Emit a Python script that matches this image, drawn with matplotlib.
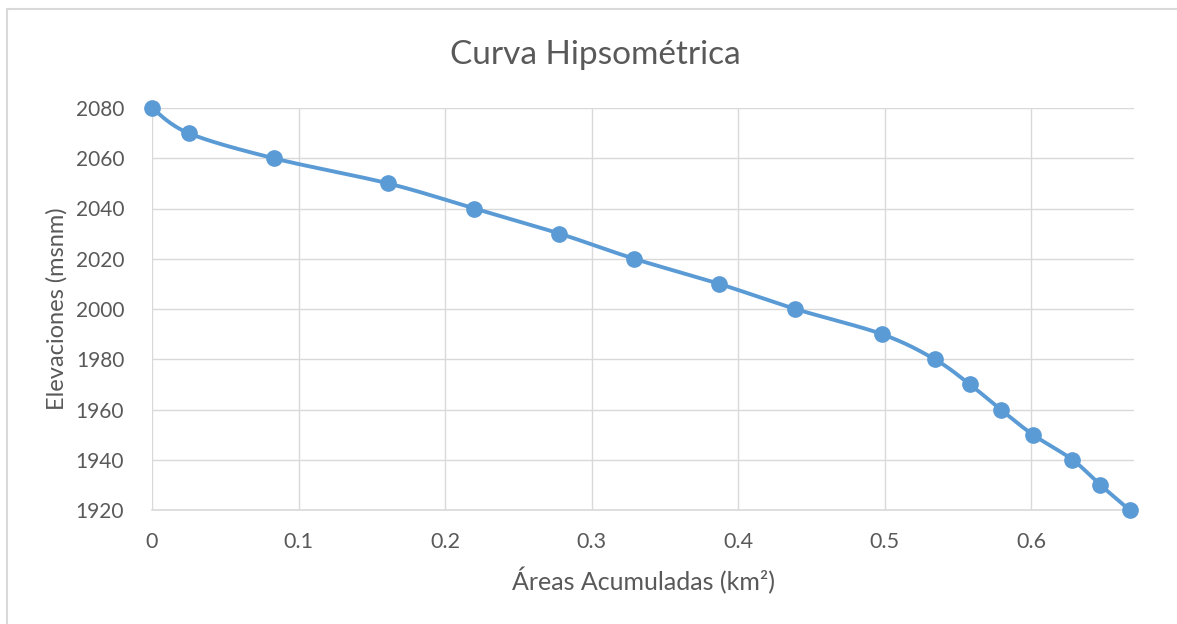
import numpy as np
import matplotlib.pyplot as plt
from matplotlib.patches import Rectangle

# Cumulative area (km2) vs elevation (msnm)
areas = [0.0, 0.025, 0.083, 0.161, 0.220, 0.278, 0.329, 0.387, 0.439,
         0.498, 0.534, 0.558, 0.579, 0.601, 0.628, 0.647, 0.667]
elevaciones = [2080, 2070, 2060, 2050, 2040, 2030, 2020, 2010, 2000,
               1990, 1980, 1970, 1960, 1950, 1940, 1930, 1920]

x_ticks = [0, 0.1, 0.2, 0.3, 0.4, 0.5, 0.6]
y_ticks = list(range(1920, 2081, 20))

azul = '#5B9BD5'
gris = '#595959'
rejilla = '#D9D9D9'


def suavizar(x, y, n=30):
    # Excel-style smoothed line: cubic Bezier segments with Catmull-Rom handles
    p = np.column_stack([x, y]).astype(float)
    p = np.vstack([p[0], p, p[-1]])
    t = np.linspace(0, 1, n)[:, None]
    out = []
    for i in range(1, len(p) - 2):
        p0, p1, p2, p3 = p[i - 1], p[i], p[i + 1], p[i + 2]
        c1 = p1 + (p2 - p0) / 6
        c2 = p2 - (p3 - p1) / 6
        seg = ((1 - t) ** 3) * p1 + 3 * ((1 - t) ** 2) * t * c1 \
            + 3 * (1 - t) * t ** 2 * c2 + t ** 3 * p2
        out.append(seg)
    out = np.vstack(out)
    return out[:, 0], out[:, 1]


plt.rcParams['font.family'] = ['Lato', 'DejaVu Sans']

fig = plt.figure(figsize=(11.77, 6.24), dpi=100)
fig.patches.append(Rectangle((7 / 1177, -0.1), 1.2, 1 - 9 / 624 + 0.1,
                             transform=fig.transFigure, fill=False,
                             edgecolor='#D9D9D9', linewidth=1.5))

ax = fig.add_axes([152 / 1177, 1 - 510 / 624, (1134 - 152) / 1177, (510 - 108) / 624])

sx, sy = suavizar(areas, elevaciones)
ax.plot(sx, sy, color=azul, linewidth=2.8, zorder=3, solid_capstyle='round')
ax.plot(areas, elevaciones, linestyle='none', marker='o', markersize=11,
        color=azul, zorder=4, clip_on=False)

ax.set_xlim(0, 0.67)
ax.set_ylim(1920, 2080)
ax.set_xticks(x_ticks)
ax.set_xticklabels(['0' if v == 0 else f'{v:g}' for v in x_ticks])
ax.set_yticks(y_ticks)
ax.grid(True, color=rejilla, linewidth=1)
ax.set_axisbelow(True)
for lado in ['top', 'right', 'left']:
    ax.spines[lado].set_visible(False)
ax.spines['bottom'].set_color(rejilla)
ax.spines['bottom'].set_linewidth(1.2)
ax.tick_params(axis='y', length=0, labelsize=15, colors=gris, pad=20)
ax.tick_params(axis='x', length=0, labelsize=15.5, colors=gris, pad=16)

fig.text(595 / 1177, 1 - 55 / 624, 'Curva Hipsométrica', fontsize=24,
         color=gris, ha='center', va='center')
ax.set_xlabel('Áreas Acumuladas (km²)', fontsize=18, color=gris, labelpad=11)
ax.set_ylabel('Elevaciones (msnm)', fontsize=17, color=gris, labelpad=6)

fig.savefig('out.png', dpi=100, facecolor='white')
